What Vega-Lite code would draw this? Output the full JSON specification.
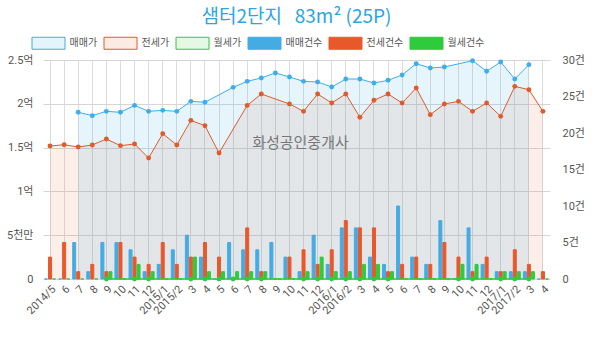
{
  "$schema": "https://vega.github.io/schema/vega-lite/v6.json",
  "width": 507,
  "height": 219,
  "autosize": {"type": "none"},
  "padding": {"left": 43, "top": 60, "right": 50, "bottom": 59},
  "background": "white",
  "title": {
    "text": "샘터2단지\u00a0\u00a0\u00a083m² (25P)",
    "font": "Noto Sans CJK KR",
    "fontSize": 19,
    "fontWeight": "normal",
    "color": "#2ba6df",
    "anchor": "middle",
    "frame": "group",
    "offset": 10
  },
  "config": {
    "view": {"stroke": null},
    "font": "Noto Sans CJK KR",
    "mark": {"invalid": "filter"},
    "axis": {"labelFont": "Roboto, Noto Sans CJK KR", "labelColor": "#555555", "labelFontSize": 11}
  },
  "data": {
    "values": [
      {"m": "2014/5", "mm": null, "js": 1.518, "ws": null, "mmc": 0, "jsc": 3, "wsc": 0},
      {"m": "2014/6", "mm": null, "js": 1.533, "ws": null, "mmc": 0, "jsc": 5, "wsc": 0},
      {"m": "2014/7", "mm": 1.903, "js": 1.507, "ws": null, "mmc": 5, "jsc": 1, "wsc": 0},
      {"m": "2014/8", "mm": 1.865, "js": 1.53, "ws": null, "mmc": 1, "jsc": 2, "wsc": 0},
      {"m": "2014/9", "mm": 1.914, "js": 1.598, "ws": 0, "mmc": 5, "jsc": 1, "wsc": 1},
      {"m": "2014/10", "mm": 1.903, "js": 1.522, "ws": null, "mmc": 5, "jsc": 5, "wsc": 0},
      {"m": "2014/11", "mm": 1.982, "js": 1.541, "ws": 0, "mmc": 4, "jsc": 3, "wsc": 2},
      {"m": "2014/12", "mm": 1.914, "js": 1.381, "ws": 0, "mmc": 1, "jsc": 2, "wsc": 1},
      {"m": "2015/1", "mm": 1.925, "js": 1.659, "ws": null, "mmc": 2, "jsc": 5, "wsc": 0},
      {"m": "2015/2", "mm": 1.914, "js": 1.53, "ws": null, "mmc": 4, "jsc": 2, "wsc": 0},
      {"m": "2015/3", "mm": 2.028, "js": 1.811, "ws": 0, "mmc": 6, "jsc": 3, "wsc": 3},
      {"m": "2015/4", "mm": 2.017, "js": 1.75, "ws": 0, "mmc": 3, "jsc": 5, "wsc": 1},
      {"m": "2015/5", "mm": null, "js": 1.438, "ws": 0, "mmc": 0, "jsc": 3, "wsc": 1},
      {"m": "2015/6", "mm": 2.188, "js": null, "ws": 0, "mmc": 5, "jsc": 0, "wsc": 1},
      {"m": "2015/7", "mm": 2.256, "js": 1.982, "ws": 0, "mmc": 4, "jsc": 7, "wsc": 1},
      {"m": "2015/8", "mm": 2.295, "js": 2.112, "ws": 0, "mmc": 4, "jsc": 1, "wsc": 1},
      {"m": "2015/9", "mm": 2.352, "js": null, "ws": null, "mmc": 5, "jsc": 0, "wsc": 0},
      {"m": "2015/10", "mm": 2.306, "js": 1.998, "ws": null, "mmc": 3, "jsc": 3, "wsc": 0},
      {"m": "2015/11", "mm": 2.256, "js": 1.914, "ws": 0, "mmc": 1, "jsc": 4, "wsc": 1},
      {"m": "2015/12", "mm": 2.249, "js": 2.112, "ws": 0, "mmc": 6, "jsc": 2, "wsc": 3},
      {"m": "2016/1", "mm": 2.192, "js": 2.009, "ws": 0, "mmc": 2, "jsc": 4, "wsc": 1},
      {"m": "2016/2", "mm": 2.283, "js": 2.112, "ws": 0, "mmc": 7, "jsc": 8, "wsc": 1},
      {"m": "2016/3", "mm": 2.283, "js": 1.846, "ws": 0, "mmc": 7, "jsc": 7, "wsc": 2},
      {"m": "2016/4", "mm": 2.237, "js": 2.04, "ws": 0, "mmc": 3, "jsc": 7, "wsc": 2},
      {"m": "2016/5", "mm": 2.268, "js": 2.112, "ws": 0, "mmc": 2, "jsc": 1, "wsc": 1},
      {"m": "2016/6", "mm": 2.329, "js": 2.009, "ws": null, "mmc": 10, "jsc": 2, "wsc": 0},
      {"m": "2016/7", "mm": 2.458, "js": 2.18, "ws": null, "mmc": 3, "jsc": 3, "wsc": 0},
      {"m": "2016/8", "mm": 2.409, "js": 1.876, "ws": null, "mmc": 2, "jsc": 2, "wsc": 0},
      {"m": "2016/9", "mm": 2.42, "js": 1.998, "ws": null, "mmc": 8, "jsc": 5, "wsc": 0},
      {"m": "2016/10", "mm": null, "js": 2.028, "ws": 0, "mmc": 0, "jsc": 3, "wsc": 2},
      {"m": "2016/11", "mm": 2.492, "js": 1.914, "ws": 0, "mmc": 7, "jsc": 1, "wsc": 2},
      {"m": "2016/12", "mm": 2.371, "js": 2.009, "ws": null, "mmc": 2, "jsc": 3, "wsc": 0},
      {"m": "2017/1", "mm": 2.477, "js": 1.857, "ws": 0, "mmc": 1, "jsc": 1, "wsc": 1},
      {"m": "2017/2", "mm": 2.283, "js": 2.199, "ws": 0, "mmc": 1, "jsc": 4, "wsc": 1},
      {"m": "2017/3", "mm": 2.447, "js": 2.161, "ws": 0, "mmc": 1, "jsc": 2, "wsc": 1},
      {"m": "2017/4", "mm": null, "js": 1.914, "ws": null, "mmc": 0, "jsc": 1, "wsc": 0}
    ]
  },
  "encoding": {
    "x": {
      "field": "m",
      "type": "ordinal",
      "scale": {
        "domain": ["2014/5","2014/6","2014/7","2014/8","2014/9","2014/10","2014/11","2014/12","2015/1","2015/2","2015/3","2015/4","2015/5","2015/6","2015/7","2015/8","2015/9","2015/10","2015/11","2015/12","2016/1","2016/2","2016/3","2016/4","2016/5","2016/6","2016/7","2016/8","2016/9","2016/10","2016/11","2016/12","2017/1","2017/2","2017/3","2017/4"],
        "paddingInner": 0,
        "paddingOuter": 0
      },
      "axis": {
        "title": null,
        "labelAngle": -45,
        "labelExpr": "datum.value == '2014/5' || slice(datum.value, -2) == '/1' || slice(datum.value, -2) == '/2' ? datum.value : split(datum.value, '/')[1]",
        "grid": true,
        "gridColor": "#dcdcdc",
        "ticks": false,
        "domain": false,
        "labelPadding": 4
      }
    }
  },
  "layer": [
    {
      "mark": {"type": "area", "color": "#e05a2b", "opacity": 0.1},
      "encoding": {
        "y": {
          "field": "js",
          "type": "quantitative",
          "scale": {"domain": [0, 2.5]},
          "axis": {
            "title": null,
            "values": [0, 0.5, 1, 1.5, 2, 2.5],
            "labelExpr": "datum.value == 0 ? '0' : datum.value == 0.5 ? '5\\uCC9C\\uB9CC' : datum.value + '\\uC5B5'",
            "grid": true,
            "gridColor": "#d6d6d6",
            "domain": false,
            "ticks": false,
            "labelPadding": 10
          }
        }
      }
    },
    {
      "mark": {"type": "area", "color": "#3daee9", "opacity": 0.13},
      "encoding": {"y": {"field": "mm", "type": "quantitative", "scale": {"domain": [0, 2.5]}, "axis": null}}
    },
    {
      "mark": {"type": "bar", "width": 3, "strokeWidth": 1, "xOffset": -4},
      "encoding": {
        "y": {
          "field": "mmc",
          "type": "quantitative",
          "scale": {"domain": [0, 30]},
          "axis": {
            "orient": "right",
            "title": null,
            "values": [0, 5, 10, 15, 20, 25, 30],
            "labelExpr": "datum.value == 0 ? '0' : datum.value + '\\uAC74'",
            "grid": false,
            "domain": false,
            "ticks": false,
            "labelPadding": 12
          }
        },
        "color": {
          "datum": "매매건수",
          "type": "nominal",
          "scale": {
            "domain": ["매매가", "전세가", "월세가", "매매건수", "전세건수", "월세건수"],
            "range": ["#e4f4fc", "#fcebe3", "#e4f8e4", "#45abe3", "#e8582b", "#2ecb3c"]
          },
          "legend": {
            "orient": "none",
            "legendX": -11.5,
            "legendY": -23.5,
            "direction": "horizontal",
            "columns": 6,
            "title": null,
            "symbolType": "M-1,-1H4.5V1H-1Z",
            "symbolSize": 144,
            "symbolStrokeWidth": 1,
            "labelOffset": 25,
            "columnPadding": 4,
            "labelFont": "Noto Sans CJK KR",
            "labelFontSize": 10,
            "labelColor": "#555555"
          }
        },
        "stroke": {
          "datum": "매매건수",
          "type": "nominal",
          "scale": {
            "domain": ["매매가", "전세가", "월세가", "매매건수", "전세건수", "월세건수"],
            "range": ["#3daee9", "#e05a2b", "#2ecb3c", "#45abe3", "#e8582b", "#2ecb3c"]
          }
        }
      }
    },
    {
      "mark": {"type": "bar", "width": 3, "strokeWidth": 1, "xOffset": 0},
      "encoding": {
        "y": {"field": "jsc", "type": "quantitative", "scale": {"domain": [0, 30]}, "axis": null},
        "color": {"datum": "전세건수", "type": "nominal"},
        "stroke": {"datum": "전세건수", "type": "nominal"}
      }
    },
    {
      "mark": {"type": "bar", "width": 3, "strokeWidth": 1, "xOffset": 4},
      "encoding": {
        "y": {"field": "wsc", "type": "quantitative", "scale": {"domain": [0, 30]}, "axis": null},
        "color": {"datum": "월세건수", "type": "nominal"},
        "stroke": {"datum": "월세건수", "type": "nominal"}
      }
    },
    {
      "mark": {"type": "line", "color": "#e05a2b", "strokeWidth": 1, "point": {"filled": true, "size": 24, "color": "#e05a2b"}},
      "encoding": {"y": {"field": "js", "type": "quantitative", "scale": {"domain": [0, 2.5]}, "axis": null}}
    },
    {
      "mark": {"type": "line", "color": "#3daee9", "strokeWidth": 1, "point": {"filled": true, "size": 24, "color": "#3daee9"}},
      "encoding": {"y": {"field": "mm", "type": "quantitative", "scale": {"domain": [0, 2.5]}, "axis": null}}
    },
    {
      "mark": {"type": "line", "color": "#2ecb3c", "strokeWidth": 1.5, "point": {"filled": true, "size": 24, "color": "#2ecb3c"}},
      "encoding": {"y": {"field": "ws", "type": "quantitative", "scale": {"domain": [0, 2.5]}, "axis": null}}
    },
    {
      "data": {"values": [{}]},
      "mark": {"type": "text", "text": "화성공인중개사", "font": "Noto Sans CJK KR", "fontSize": 15, "color": "#777777", "dx": 11},
      "encoding": {
        "x": {"datum": "2015/10"},
        "y": {"datum": 1.55, "type": "quantitative", "scale": {"domain": [0, 2.5]}, "axis": null}
      }
    }
  ],
  "resolve": {"scale": {"y": "independent"}}
}
